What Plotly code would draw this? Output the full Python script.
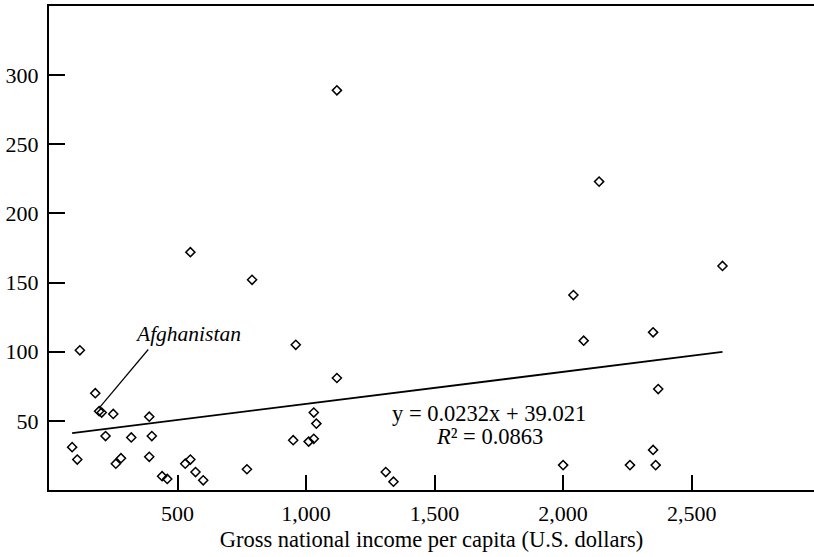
import plotly.graph_objects as go

# Gross national income per capita (U.S. dollars)
gni = [90, 110, 120, 180, 195, 205, 220, 250, 260, 280, 320, 390, 390, 400, 440, 460,
       530, 550, 550, 570, 600, 770, 790, 950, 960, 1010, 1030, 1030, 1040, 1120, 1120,
       1310, 1340, 2000, 2040, 2080, 2140, 2260, 2350, 2350, 2360, 2370, 2620]
values = [31, 22, 101, 70, 57, 56, 39, 55, 19, 23, 38, 53, 24, 39, 10, 8,
          19, 22, 172, 13, 7, 15, 152, 36, 105, 35, 37, 56, 48, 289, 81,
          13, 6, 18, 141, 108, 223, 18, 114, 29, 18, 73, 162]

slope = 0.0232
intercept = 39.021
r_squared = 0.0863

x_ticks = [500, 1000, 1500, 2000, 2500]
y_ticks = [50, 100, 150, 200, 250, 300]

FONT = "Liberation Serif"

fig = go.Figure()
fig.add_trace(go.Scatter(
    x=gni, y=values, mode="markers",
    marker=dict(symbol="diamond-open", size=7, color="black", line=dict(width=1.5, color="black")),
    hoverinfo="skip", showlegend=False,
))
x_line = [min(gni), max(gni)]
fig.add_trace(go.Scatter(
    x=x_line, y=[slope * v + intercept for v in x_line], mode="lines",
    line=dict(color="black", width=1.8), hoverinfo="skip", showlegend=False,
))

# Afghanistan leader line and label
fig.add_shape(type="line", xref="x", yref="y", x0=386, y0=101.6, x1=194, y1=59,
              line=dict(color="black", width=1.2))
fig.add_annotation(x=540, y=113, xref="x", yref="y", text="<i>Afghanistan</i>",
                   showarrow=False, font=dict(family=FONT, size=21.5, color="black"))

fig.add_annotation(x=1712, y=55.5, xref="x", yref="y",
                   text=f"y = {slope}x + {intercept}", showarrow=False,
                   font=dict(family=FONT, size=22.5, color="black"))
fig.add_annotation(x=1715, y=38.5, xref="x", yref="y",
                   text=f"<i>R</i>² = {r_squared}", showarrow=False,
                   font=dict(family=FONT, size=22.5, color="black"))

fig.update_layout(
    width=814, height=557,
    margin=dict(l=49, r=0, t=6, b=67),
    paper_bgcolor="white", plot_bgcolor="white",
    font=dict(family=FONT, size=22, color="black"),
    xaxis=dict(
        range=[0, 2976], tickvals=x_ticks, tickformat=",",
        ticks="inside", ticklen=15, tickwidth=2, tickcolor="black",
        showline=True, linecolor="black", linewidth=2, mirror=True,
        showgrid=False, zeroline=False, ticklabelstandoff=3,
        title=dict(text="Gross national income per capita (U.S. dollars)",
                   font=dict(family=FONT, size=22.5), standoff=6),
        tickfont=dict(family=FONT, size=22),
    ),
    yaxis=dict(
        range=[0, 350], tickvals=y_ticks,
        ticks="inside", ticklen=16, tickwidth=2, tickcolor="black",
        showline=True, linecolor="black", linewidth=2,
        showgrid=False, zeroline=False, ticklabelstandoff=4,
        tickfont=dict(family=FONT, size=22),
    ),
)

fig.write_html("out.html", config={"displayModeBar": False})
